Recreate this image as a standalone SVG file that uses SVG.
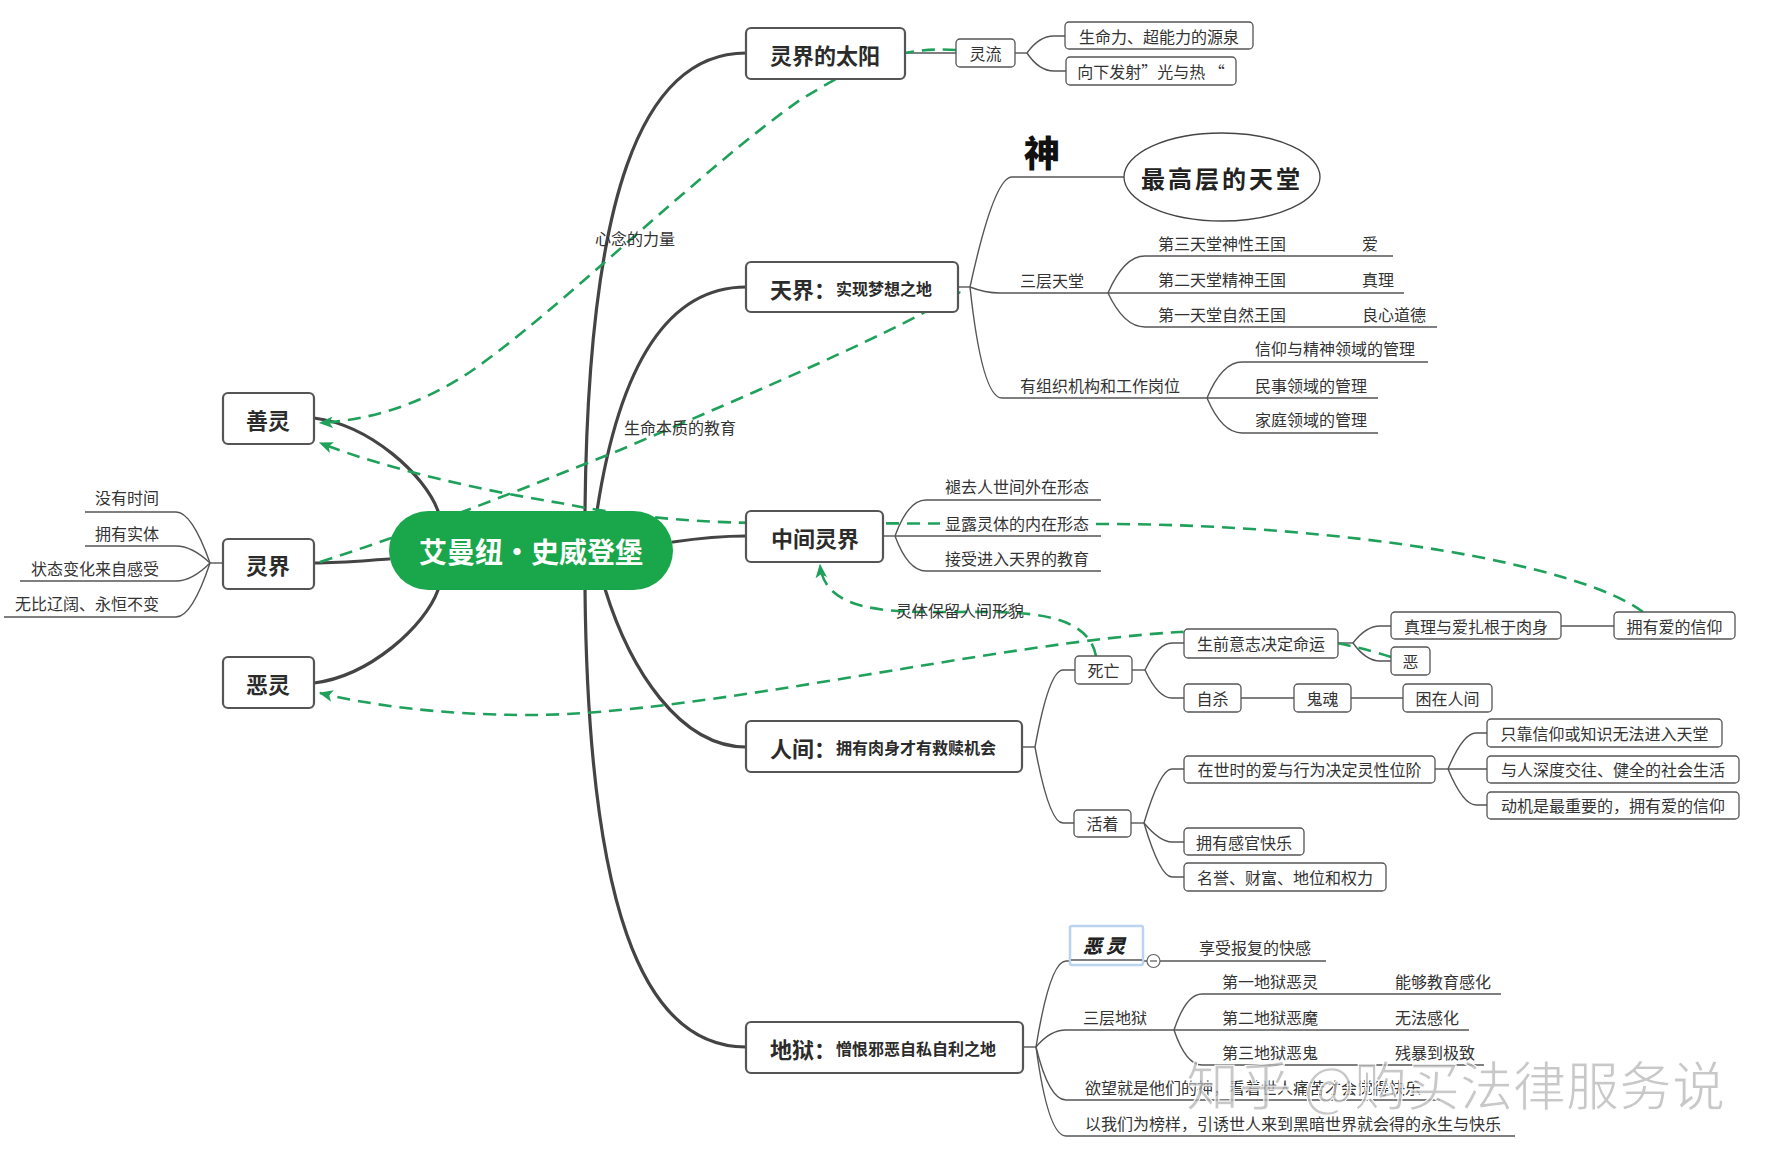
<svg xmlns="http://www.w3.org/2000/svg" width="1766" height="1156" viewBox="0 0 1766 1156">
<style>
text{font-family:"Noto Sans CJK SC","Noto Sans",sans-serif;fill:#333;}
.t16{font-size:16px;}
.b22{font-size:22px;font-weight:700;fill:#2b2b2b;}
.main{fill:#fff;stroke:#555;stroke-width:2.2;}
.sub{fill:#fff;stroke:#555;stroke-width:1.3;}
.thick{fill:none;stroke:#444;stroke-width:3.2;stroke-linecap:round;}
.thin{fill:none;stroke:#555;stroke-width:1.4;}
.rel{fill:none;stroke:#1fa15b;stroke-width:2.6;stroke-dasharray:13 8;}
.bg{fill:#fff;}
</style>
<defs>
<marker id="arr" viewBox="0 0 12 10" refX="11" refY="5" markerWidth="14" markerHeight="12" orient="auto" markerUnits="userSpaceOnUse">
<path d="M0,0 L12,5 L0,10 L3,5 z" fill="#1fa15b"/>
</marker>
</defs>
<rect width="1766" height="1156" fill="#fff"/>

<g id="connectors">
<path class="thick" d="M438,511 C425,475 370,425 314,418"/>
<path class="thick" d="M389,559 C360,561 340,563 314,563"/>
<path class="thick" d="M438,590 C425,626 370,676 314,683"/>
<path class="thick" d="M585,511 C588,200 640,53 746,53"/>
<path class="thick" d="M597,511 C620,360 670,287 746,287"/>
<path class="thick" d="M673,542 C700,538 720,536 746,536"/>
<path class="thick" d="M605,589 C630,670 680,747 746,747"/>
<path class="thick" d="M585,589 C588,900 640,1047 746,1047"/>
<path class="thin" d="M223,563 L210,563"/>
<path class="thin" d="M210,563 Q192,512 176,512 L85,512"/>
<path class="thin" d="M210,563 Q192,546 176,546 L85,546"/>
<path class="thin" d="M210,563 Q192,581 176,581 L20,581"/>
<path class="thin" d="M210,563 Q192,617 176,617 L4,617"/>
<path class="thin" d="M905,53 L956,53"/>
<path class="thin" d="M1015,53 L1027,53"/>
<path class="thin" d="M1027,53 Q1039,36 1054,36 L1065,36"/>
<path class="thin" d="M1027,53 Q1039,71 1054,71 L1066,71"/>
<path class="thin" d="M958,287 L970,287"/>
<path class="thin" d="M970,287 Q994,177 1012,177 L1124,177"/>
<path class="thin" d="M970,287 Q985,293 1000,293 L1108,293"/>
<path class="thin" d="M970,287 Q982,398 1002,398 L1207,398"/>
<path class="thin" d="M1108,293 Q1124,256 1145,256 L1393,256"/>
<path class="thin" d="M1108,293 L1404,293"/>
<path class="thin" d="M1108,293 Q1124,327 1145,327 L1437,327"/>
<path class="thin" d="M1207,398 Q1222,362 1242,362 L1428,362"/>
<path class="thin" d="M1207,398 L1378,398"/>
<path class="thin" d="M1207,398 Q1222,433 1242,433 L1378,433"/>
<path class="thin" d="M883,536 L895,536"/>
<path class="thin" d="M895,536 Q908,500 926,500 L1101,500"/>
<path class="thin" d="M895,536 L1101,536"/>
<path class="thin" d="M895,536 Q908,571 926,571 L1101,571"/>
<path class="thin" d="M1022,747 L1035,747"/>
<path class="thin" d="M1035,747 Q1049,670 1063,670 L1075,670"/>
<path class="thin" d="M1035,747 Q1049,823 1063,823 L1074,823"/>
<path class="thin" d="M1132,670 L1145,670"/>
<path class="thin" d="M1145,670 Q1158,643 1172,643 L1184,643"/>
<path class="thin" d="M1145,670 Q1158,698 1172,698 L1184,698"/>
<path class="thin" d="M1338,643 L1353,643"/>
<path class="thin" d="M1353,643 Q1366,626 1380,626 L1391,626"/>
<path class="thin" d="M1353,643 Q1366,661 1380,661 L1391,661"/>
<path class="thin" d="M1561,626 L1614,626"/>
<path class="thin" d="M1241,698 L1294,698"/>
<path class="thin" d="M1351,698 L1403,698"/>
<path class="thin" d="M1131,823 L1144,823"/>
<path class="thin" d="M1144,823 Q1160,769 1172,769 L1184,769"/>
<path class="thin" d="M1144,823 Q1160,842 1172,842 L1184,842"/>
<path class="thin" d="M1144,823 Q1160,877 1172,877 L1184,877"/>
<path class="thin" d="M1435,769 L1448,769"/>
<path class="thin" d="M1448,769 Q1463,733 1476,733 L1487,733"/>
<path class="thin" d="M1448,769 L1487,769"/>
<path class="thin" d="M1448,769 Q1463,805 1476,805 L1487,805"/>
<path class="thin" d="M1023,1047 L1036,1047"/>
<path class="thin" d="M1036,1047 Q1050,961 1066,961 L1070,961"/>
<path class="thin" d="M1036,1047 Q1050,1030 1066,1030 L1174,1030"/>
<path class="thin" d="M1036,1047 Q1049,1100 1066,1100 L1440,1100"/>
<path class="thin" d="M1036,1047 Q1048,1136 1066,1136 L1515,1136"/>
<path class="thin" d="M1174,1030 Q1186,994 1202,994 L1501,994"/>
<path class="thin" d="M1174,1030 L1469,1030"/>
<path class="thin" d="M1174,1030 Q1186,1065 1202,1065 L1484,1065"/>
<path class="thin" d="M1070,961 L1147,961"/>
<path class="thin" d="M1160,961 L1326,961"/>
</g>

<g id="relations">
<path class="rel" d="M956,50 C890,46 850,70 800,100 C700,170 560,310 470,372 C420,405 370,420 320,423" marker-end="url(#arr)"/>
<path class="rel" d="M1643,612 C1580,565 1350,524 1100,524 L760,523 C680,522 620,515 560,503 C480,490 390,470 320,443" marker-end="url(#arr)"/>
<path class="rel" d="M320,562 C420,530 520,490 620,450 C760,390 900,330 960,292" marker-end="url(#arr)"/>
<path class="rel" d="M1391,657 C1340,640 1260,628 1180,632 C1000,642 700,715 530,715 C440,715 370,705 320,693" marker-end="url(#arr)"/>
<path class="rel" d="M1096,656 C1078,565 830,660 820,565" marker-end="url(#arr)"/>
<text class="t16" x="635" y="238" text-anchor="middle" dominant-baseline="central">心念的力量</text>
<text class="t16" x="680" y="427" text-anchor="middle" dominant-baseline="central">生命本质的教育</text>
<text class="t16" x="960" y="610" text-anchor="middle" dominant-baseline="central">灵体保留人间形貌</text>
</g>

<g id="center">
<rect x="389" y="511" width="284" height="79" rx="39.5" fill="#1aa64b"/>
<text x="531" y="551" text-anchor="middle" dominant-baseline="central" style="font-size:28px;font-weight:700;fill:#fff">艾曼纽·史威登堡</text>
</g>

<g id="shanling"><rect class="main" x="223" y="393" width="91" height="51" rx="5"/><text class="b22" x="268" y="419" text-anchor="middle" dominant-baseline="central">善灵</text></g>
<g id="lingjie"><rect class="main" x="223" y="539" width="91" height="50" rx="5"/><text class="b22" x="268" y="564" text-anchor="middle" dominant-baseline="central">灵界</text></g>
<g id="eling"><rect class="main" x="223" y="657" width="91" height="51" rx="5"/><text class="b22" x="268" y="683" text-anchor="middle" dominant-baseline="central">恶灵</text></g>

<g id="lingjie-leaves">
<text class="t16" x="159" y="497" text-anchor="end" dominant-baseline="central">没有时间</text>
<text class="t16" x="159" y="533" text-anchor="end" dominant-baseline="central">拥有实体</text>
<text class="t16" x="159" y="568" text-anchor="end" dominant-baseline="central">状态变化来自感受</text>
<text class="t16" x="159" y="603" text-anchor="end" dominant-baseline="central">无比辽阔、永恒不变</text>
</g>

<g id="sun"><rect class="main" x="746" y="28" width="159" height="51" rx="5"/><text class="b22" x="825" y="54" text-anchor="middle" dominant-baseline="central">灵界的太阳</text></g>
<g id="lingliu"><rect class="sub" x="956" y="39" width="59" height="28" rx="4"/><text class="t16" x="985.5" y="53" text-anchor="middle" dominant-baseline="central">灵流</text></g>
<g id="sun-1"><rect class="sub" x="1065" y="22" width="188" height="27" rx="4"/><text class="t16" x="1159" y="36" text-anchor="middle" dominant-baseline="central">生命力、超能力的源泉</text></g>
<g id="sun-2"><rect class="sub" x="1066" y="57" width="170" height="28" rx="4"/><text class="t16" x="1151" y="71" text-anchor="middle" dominant-baseline="central">向下发射”光与热 “</text></g>

<g id="tianjie"><rect class="main" x="746" y="262" width="212" height="50" rx="5"/><text x="770" y="288" dominant-baseline="central"><tspan style="font-size:22px;font-weight:700;fill:#2b2b2b">天界：</tspan><tspan style="font-size:16px;font-weight:700;fill:#2b2b2b">实现梦想之地</tspan></text></g>
<g id="shen"><text x="1042" y="151" text-anchor="middle" dominant-baseline="central" style="font-size:36px;font-weight:900;fill:#111">神</text></g>
<g id="top-heaven"><ellipse cx="1222" cy="177" rx="98" ry="44" fill="#fff" stroke="#444" stroke-width="1.3"/><text x="1222" y="177" text-anchor="middle" dominant-baseline="central" style="font-size:24px;font-weight:700;letter-spacing:3px;fill:#222">最高层的天堂</text></g>
<g id="three-heaven">
<text class="t16" x="1020" y="280" dominant-baseline="central">三层天堂</text>
<text class="t16" x="1158" y="243" dominant-baseline="central">第三天堂神性王国</text>
<text class="t16" x="1362" y="243" dominant-baseline="central">爱</text>
<text class="t16" x="1158" y="279" dominant-baseline="central">第二天堂精神王国</text>
<text class="t16" x="1362" y="279" dominant-baseline="central">真理</text>
<text class="t16" x="1158" y="314" dominant-baseline="central">第一天堂自然王国</text>
<text class="t16" x="1362" y="314" dominant-baseline="central">良心道德</text>
</g>
<g id="org">
<text class="t16" x="1020" y="385" dominant-baseline="central">有组织机构和工作岗位</text>
<text class="t16" x="1255" y="348" dominant-baseline="central">信仰与精神领域的管理</text>
<text class="t16" x="1255" y="385" dominant-baseline="central">民事领域的管理</text>
<text class="t16" x="1255" y="419" dominant-baseline="central">家庭领域的管理</text>
</g>

<g id="zhongjian"><rect class="main" x="746" y="511" width="137" height="51" rx="5"/><text class="b22" x="815" y="537" text-anchor="middle" dominant-baseline="central">中间灵界</text></g>
<g id="zhongjian-leaves">
<text class="t16" x="945" y="486" dominant-baseline="central">褪去人世间外在形态</text>
<rect class="bg" x="940" y="512" width="155" height="22"/>
<text class="t16" x="945" y="523" dominant-baseline="central">显露灵体的内在形态</text>
<text class="t16" x="945" y="558" dominant-baseline="central">接受进入天界的教育</text>
</g>

<g id="renjian"><rect class="main" x="746" y="721" width="276" height="51" rx="5"/><text x="770" y="747" dominant-baseline="central"><tspan style="font-size:22px;font-weight:700;fill:#2b2b2b">人间：</tspan><tspan style="font-size:16px;font-weight:700;fill:#2b2b2b">拥有肉身才有救赎机会</tspan></text></g>
<g id="siwang"><rect class="sub" x="1075" y="656" width="57" height="28" rx="4"/><text class="t16" x="1103.5" y="670" text-anchor="middle" dominant-baseline="central">死亡</text></g>
<g id="shengqian"><rect class="sub" x="1184" y="629" width="154" height="29" rx="4"/><text class="t16" x="1261" y="643" text-anchor="middle" dominant-baseline="central">生前意志决定命运</text></g>
<g id="zhenli"><rect class="sub" x="1391" y="612" width="170" height="27" rx="4"/><text class="t16" x="1476" y="626" text-anchor="middle" dominant-baseline="central">真理与爱扎根于肉身</text></g>
<g id="e"><rect class="sub" x="1391" y="647" width="39" height="28" rx="4"/><text class="t16" x="1410.5" y="661" text-anchor="middle" dominant-baseline="central">恶</text></g>
<g id="aixinyang"><rect class="sub" x="1614" y="612" width="121" height="27" rx="4"/><text class="t16" x="1674.5" y="626" text-anchor="middle" dominant-baseline="central">拥有爱的信仰</text></g>
<g id="zisha"><rect class="sub" x="1184" y="684" width="57" height="28" rx="4"/><text class="t16" x="1212.5" y="698" text-anchor="middle" dominant-baseline="central">自杀</text></g>
<g id="guihun"><rect class="sub" x="1294" y="684" width="57" height="28" rx="4"/><text class="t16" x="1322.5" y="698" text-anchor="middle" dominant-baseline="central">鬼魂</text></g>
<g id="kunzai"><rect class="sub" x="1403" y="684" width="89" height="28" rx="4"/><text class="t16" x="1447.5" y="698" text-anchor="middle" dominant-baseline="central">困在人间</text></g>
<g id="huozhe"><rect class="sub" x="1074" y="810" width="57" height="27" rx="4"/><text class="t16" x="1102.5" y="823" text-anchor="middle" dominant-baseline="central">活着</text></g>
<g id="zaishi"><rect class="sub" x="1184" y="756" width="251" height="27" rx="4"/><text class="t16" x="1309.5" y="769" text-anchor="middle" dominant-baseline="central">在世时的爱与行为决定灵性位阶</text></g>
<g id="zhikao"><rect class="sub" x="1487" y="719" width="235" height="28" rx="4"/><text class="t16" x="1604.5" y="733" text-anchor="middle" dominant-baseline="central">只靠信仰或知识无法进入天堂</text></g>
<g id="yuren"><rect class="sub" x="1487" y="756" width="252" height="27" rx="4"/><text class="t16" x="1613" y="769" text-anchor="middle" dominant-baseline="central">与人深度交往、健全的社会生活</text></g>
<g id="dongji"><rect class="sub" x="1487" y="792" width="252" height="27" rx="4"/><text class="t16" x="1613" y="805" text-anchor="middle" dominant-baseline="central">动机是最重要的，拥有爱的信仰</text></g>
<g id="ganguan"><rect class="sub" x="1184" y="828" width="120" height="27" rx="4"/><text class="t16" x="1244" y="842" text-anchor="middle" dominant-baseline="central">拥有感官快乐</text></g>
<g id="mingyu"><rect class="sub" x="1184" y="863" width="202" height="28" rx="4"/><text class="t16" x="1285" y="877" text-anchor="middle" dominant-baseline="central">名誉、财富、地位和权力</text></g>

<g id="diyu"><rect class="main" x="746" y="1022" width="277" height="51" rx="5"/><text x="770" y="1048" dominant-baseline="central"><tspan style="font-size:22px;font-weight:700;fill:#2b2b2b">地狱：</tspan><tspan style="font-size:16px;font-weight:700;fill:#2b2b2b">憎恨邪恶自私自利之地</tspan></text></g>
<g id="diyu-eling">
<rect x="1070" y="926" width="73" height="39" rx="2" fill="#fff" stroke="#bcd3ee" stroke-width="2.5"/>
<line x1="1071" y1="960" x2="1142" y2="960" stroke="#555" stroke-width="1.4"/>
<text x="1106" y="944" text-anchor="middle" dominant-baseline="central" style="font-size:19px;font-weight:900;font-style:italic;letter-spacing:4px;fill:#222">恶灵</text>
<circle cx="1153.5" cy="961" r="6.5" fill="#fff" stroke="#666" stroke-width="1.2"/>
<line x1="1150" y1="961" x2="1157" y2="961" stroke="#555" stroke-width="1.2"/>
</g>
<g id="diyu-leaves">
<text class="t16" x="1199" y="947" dominant-baseline="central">享受报复的快感</text>
<text class="t16" x="1083" y="1017" dominant-baseline="central">三层地狱</text>
<text class="t16" x="1222" y="981" dominant-baseline="central">第一地狱恶灵</text>
<text class="t16" x="1395" y="981" dominant-baseline="central">能够教育感化</text>
<text class="t16" x="1222" y="1017" dominant-baseline="central">第二地狱恶魔</text>
<text class="t16" x="1395" y="1017" dominant-baseline="central">无法感化</text>
<text class="t16" x="1222" y="1052" dominant-baseline="central">第三地狱恶鬼</text>
<text class="t16" x="1395" y="1052" dominant-baseline="central">残暴到极致</text>
<text class="t16" x="1085" y="1087" dominant-baseline="central">欲望就是他们的神，看着世人痛苦才会觉得快乐</text>
<text class="t16" x="1085" y="1123" dominant-baseline="central">以我们为榜样，引诱世人来到黑暗世界就会得的永生与快乐</text>
</g>

<g id="watermark">
<text x="1186" y="1106" style="font-size:53px;font-weight:400;fill:#b5b5b5;fill-opacity:0.75;stroke:#fff;stroke-width:1">知乎 @购买法律服务说</text>
</g>
</svg>
